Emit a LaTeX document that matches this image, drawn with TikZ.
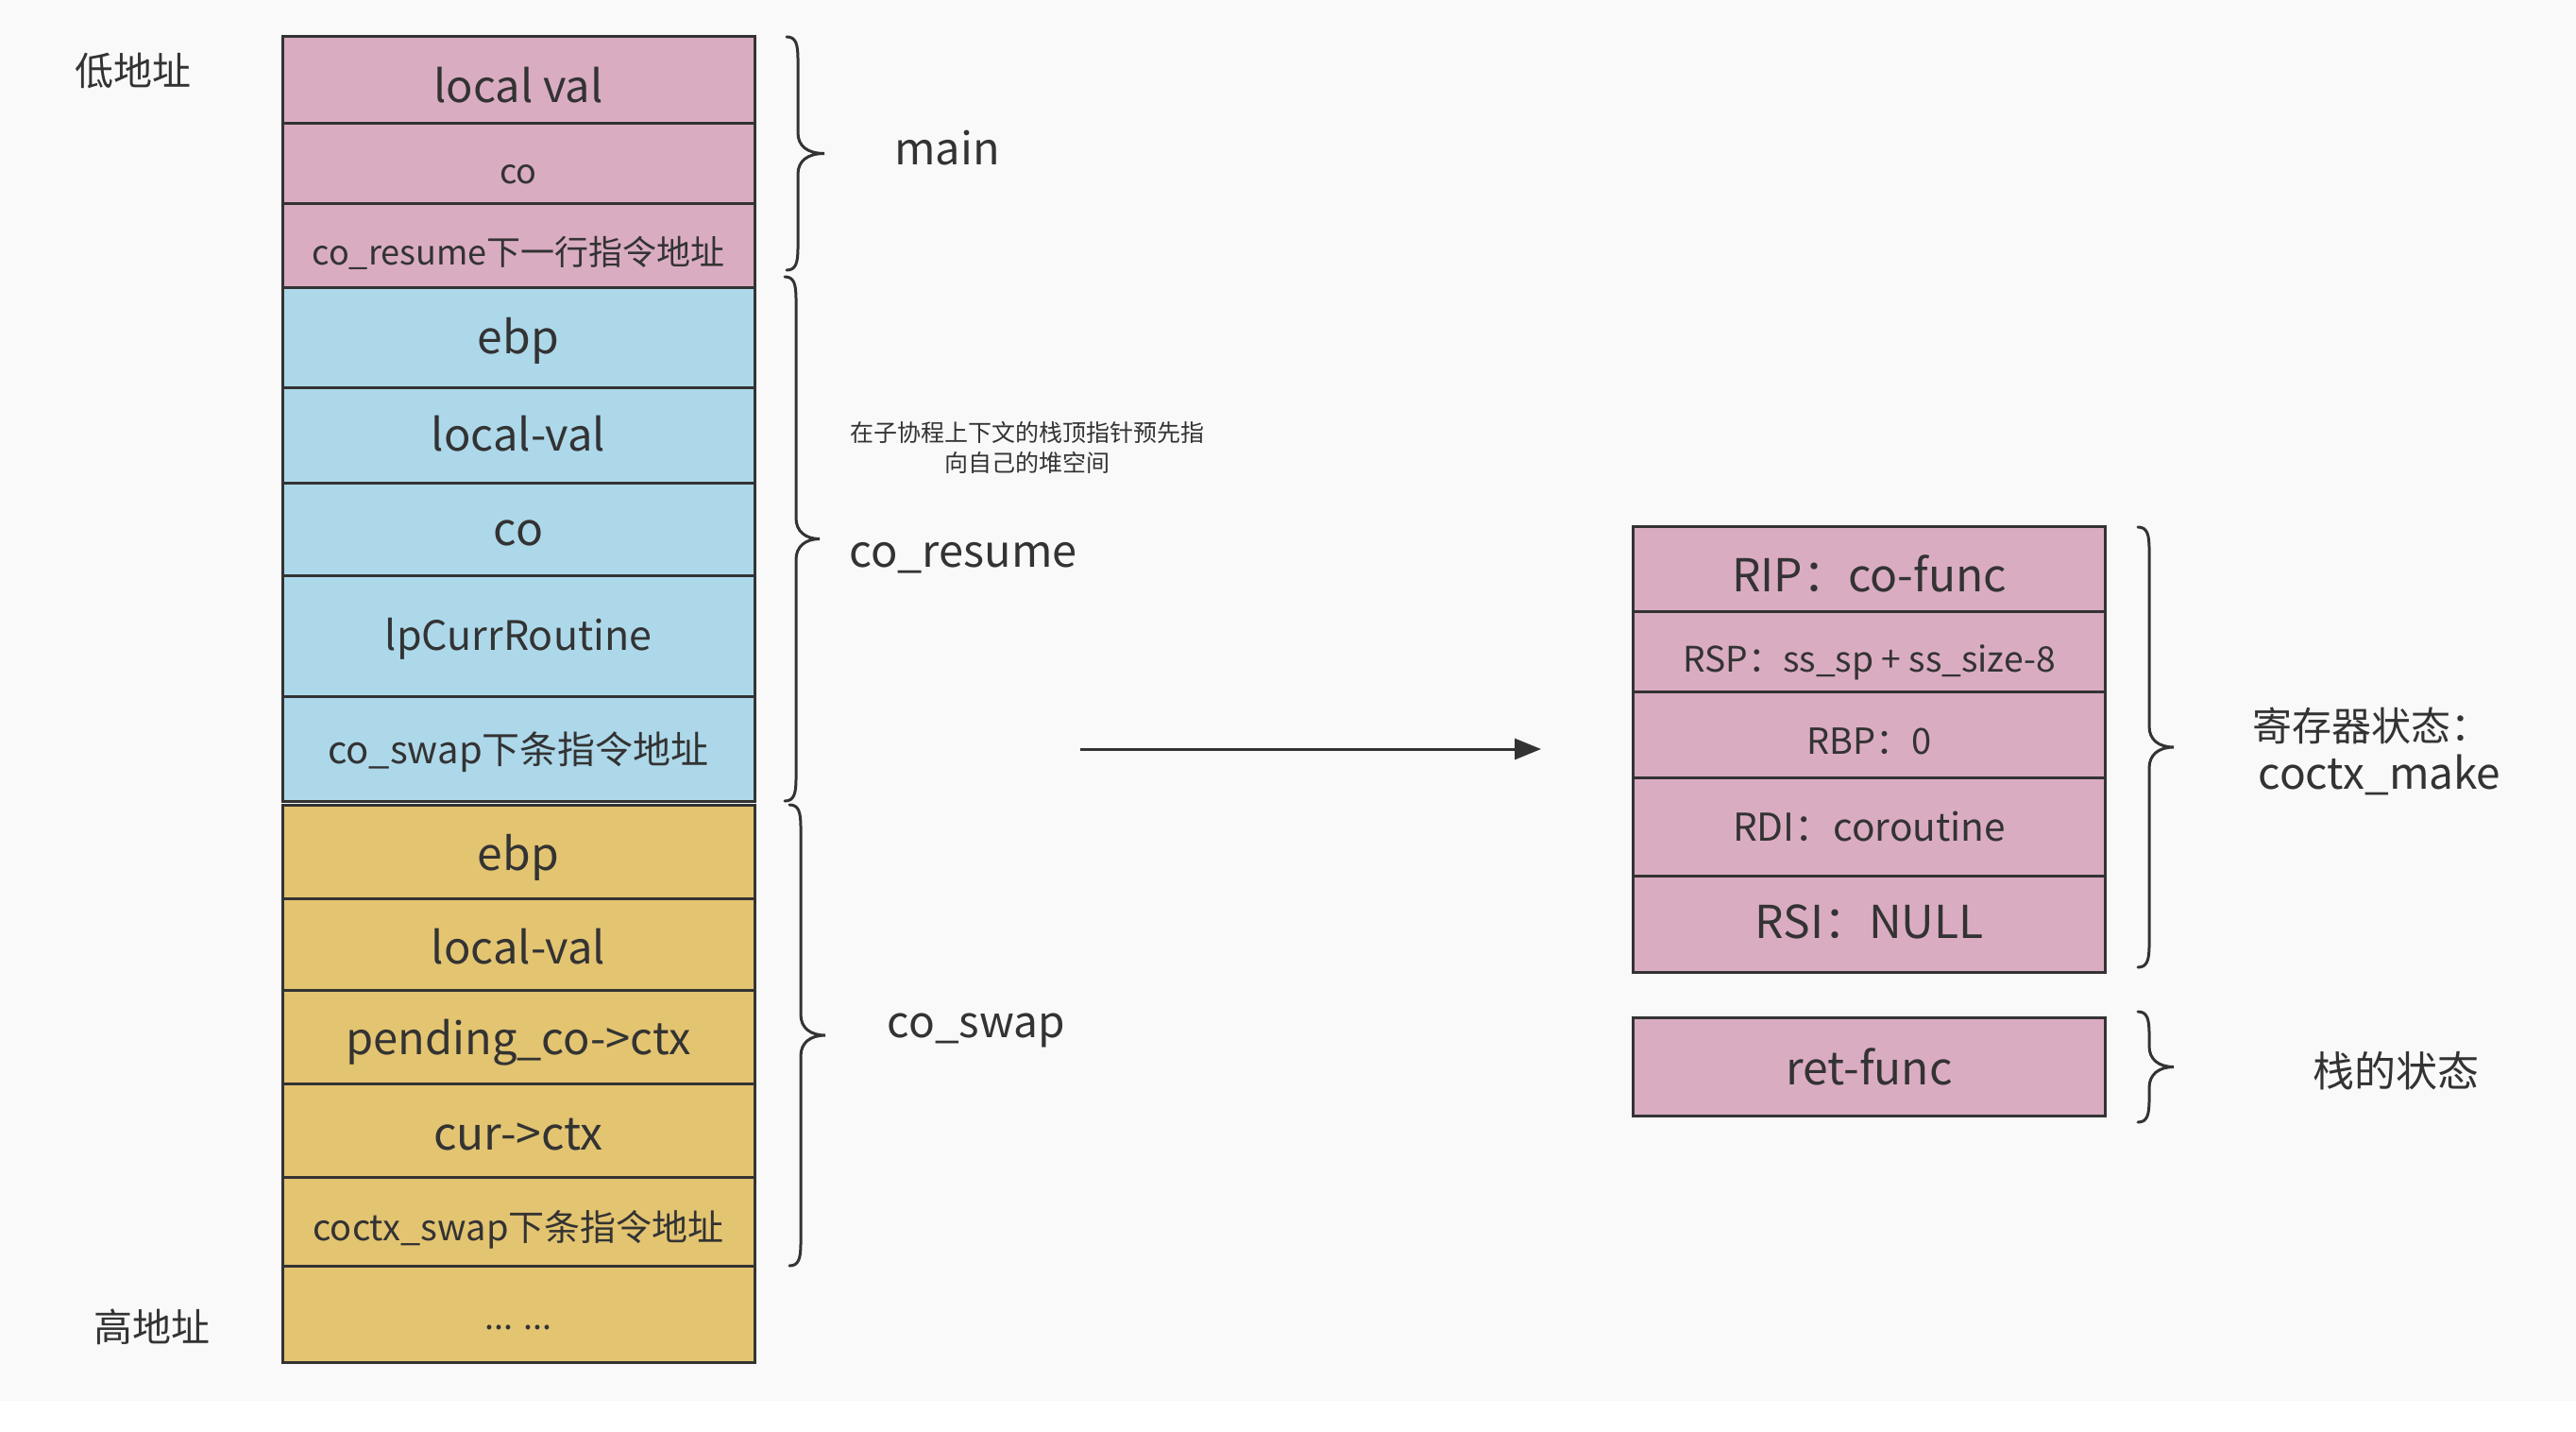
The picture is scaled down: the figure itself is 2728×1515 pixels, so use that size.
\documentclass[tikz,border=0pt]{standalone}
\usepackage{fontspec}
\setmainfont{Noto Sans CJK SC}
\usetikzlibrary{arrows.meta}
\definecolor{bgc}{HTML}{F9F9F9}
\definecolor{linec}{HTML}{333333}
\definecolor{txtc}{HTML}{333333}
\definecolor{pinkc}{HTML}{DAACC2}
\definecolor{bluec}{HTML}{ADD8EA}
\definecolor{yellowc}{HTML}{E3C471}

% one stack slot: name, centre x, top y, bottom y, fill, font size (pt), baseline drop (em), text
\newcommand\cell[8]{%
  \pgfmathsetmacro\cellh{(#4-#3)*0.5}%
  \pgfmathsetmacro\cellth{(2*#7+0.2)*#6}%
  \pgfmathsetmacro\celltd{0.2*#6}%
  \pgfmathsetmacro\cellym{(#3+#4)/2}%
  \node[cell, fill=#5, minimum height=\cellh pt, text height=\cellth pt,
        text depth=\celltd pt, font=\fontsize{#6}{#6}\selectfont]
        (#1) at (#2,\cellym) {#8};}

% free label placed on its baseline: name, x, baseline y, font size (pt), text
\newcommand\lbl[5]{%
  \node[lbltxt, font=\fontsize{#4}{#4}\selectfont] (#1) at (#2,#3) {#5};}

% right-pointing curly brace: x of the stem, top y, bottom y, tip length
\newcommand\Brc[4]{%
  \pgfmathsetmacro\brm{(#2+#3)/2}%
  \draw[bracel] (#1-12,#2) .. controls (#1-2,#2) and (#1,#2+8) .. (#1,#2+24)
    -- (#1,\brm-22) .. controls (#1,\brm-8) and (#1+10,\brm) .. (#1+#4,\brm)
    .. controls (#1+10,\brm) and (#1,\brm+8) .. (#1,\brm+22)
    -- (#1,#3-24) .. controls (#1,#3-8) and (#1-2,#3) .. (#1-12,#3);}

\begin{document}
\begin{tikzpicture}[x=0.5pt,y=-0.5pt,
  cell/.style={draw=linec, line width=1.5pt, minimum width=250pt, inner sep=0pt,
               text=txtc, anchor=center},
  lbltxt/.style={anchor=base, inner sep=0pt, text=txtc},
  bracel/.style={draw=linec, line width=1.5pt, line cap=round},
  arrowl/.style={draw=linec, line width=1.5pt, -{Triangle[length=14pt,width=11pt]}}]

\fill[white] (0,0) rectangle (2728,1515);
\fill[bgc] (0,0) rectangle (2728,1483);
\useasboundingbox (0,0) rectangle (2728,1515);

% address direction
\lbl{lowaddr}{141}{90}{20.5}{低地址}
\lbl{highaddr}{161}{1420}{20.5}{高地址}

% main frame
\cell{m1}{549}{38}{130}{pinkc}{23.5}{0.52}{local val}
\cell{m2}{549}{130}{215}{pinkc}{18}{0.62}{co}
\cell{m3}{549}{215}{304}{pinkc}{18}{0.58}{co\_resume下一行指令地址}

% co_resume frame
\cell{r1}{549}{304}{410}{bluec}{24}{0.37}{ebp}
\cell{r2}{549}{410}{511}{bluec}{23.5}{0.36}{local-val}
\cell{r3}{549}{511}{609}{bluec}{24}{0.36}{co}
\cell{r4}{549}{609}{737}{bluec}{21.5}{0.37}{lpCurrRoutine}
\cell{r5}{549}{737}{848}{bluec}{20}{0.41}{co\_swap下条指令地址}

% co_swap frame
\cell{s1}{549}{852}{951}{yellowc}{24}{0.42}{ebp}
\cell{s2}{549}{951}{1048}{yellowc}{23.5}{0.45}{local-val}
\cell{s3}{549}{1048}{1147}{yellowc}{23.5}{0.40}{pending\_co->ctx}
\cell{s4}{549}{1147}{1246}{yellowc}{24}{0.44}{cur->ctx}
\cell{s5}{549}{1246}{1340}{yellowc}{19}{0.54}{coctx\_swap下条指令地址}
\cell{s6}{549}{1340}{1442}{yellowc}{18}{0.45}{... ...}

% braces and frame names
\Brc{845}{39}{286}{28}
\Brc{843}{293}{848}{25}
\Brc{848}{852}{1340}{26}
\lbl{lmain}{1003}{174}{23.5}{main}
\lbl{lresume}{1020}{600}{23.5}{co\_resume}
\lbl{lswap}{1034}{1098}{23}{co\_swap}

\node[inner sep=0pt, text=txtc, align=center, font=\fontsize{12.5}{16}\selectfont]
  (note) at (1088,474) {在子协程上下文的栈顶指针预先指\\向自己的堆空间};

% transition
\coordinate (arrS) at (1144,793);
\coordinate (arrE) at (1632,793);
\draw[arrowl] (arrS) -- (arrE);

% context prepared by coctx_make
\cell{c1}{1979.5}{557}{647}{pinkc}{24}{0.52}{RIP：co-func}
\cell{c2}{1979.5}{647}{732}{pinkc}{18.6}{0.60}{RSP：ss\_sp + ss\_size-8}
\cell{c3}{1979.5}{732}{823}{pinkc}{19}{0.55}{RBP：0}
\cell{c4}{1979.5}{823}{927}{pinkc}{20.3}{0.38}{RDI：coroutine}
\cell{c5}{1979.5}{927}{1029}{pinkc}{24}{0.33}{RSI：NULL}
\cell{k1}{1979.5}{1077}{1181}{pinkc}{24}{0.40}{ret-func}

\Brc{2276}{558}{1024}{26}
\Brc{2276}{1071}{1188}{26}
\lbl{lregs}{2511}{784}{21}{寄存器状态：}
\lbl{lmake}{2520}{835}{23}{coctx\_make}
\lbl{lstack}{2537}{1150}{22}{栈的状态}

\end{tikzpicture}
\end{document}
